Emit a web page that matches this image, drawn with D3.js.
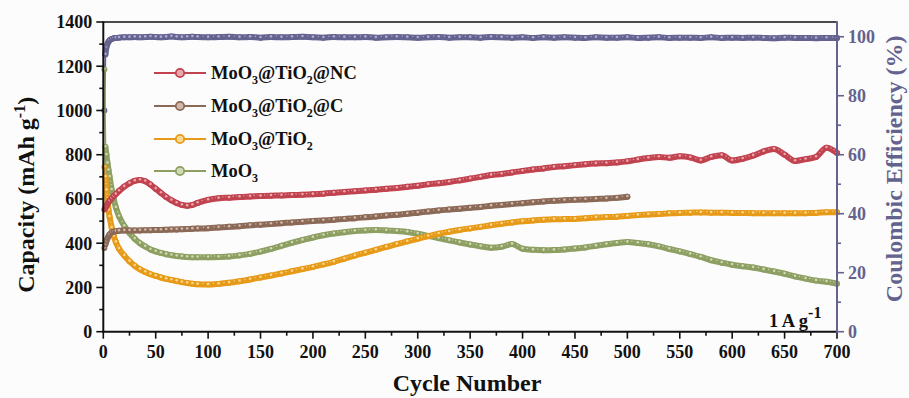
<!DOCTYPE html>
<html>
<head>
<meta charset="utf-8">
<script src="https://cdn.jsdelivr.net/npm/d3@7/dist/d3.min.js"></script>
<style>
  html, body { margin: 0; padding: 0; background: #fcfcfc; }
  svg { display: block; }
  text { font-family: "Liberation Serif", "Times New Roman", serif; font-weight: bold; }
</style>
</head>
<body>
<svg id="chart" width="909" height="398"></svg>
<script>
// Cycle numbers at which each series is sampled
const cycles = [1,2,3,4,5,6,8,10,12,15,20,25,30,35,40,45,50,55,60,65,70,75,80,85,90,
  100,110,120,130,140,150,160,170,180,190,200,210,220,230,240,250,260,270,280,290,300,
  310,320,330,340,350,360,370,380,390,400,410,420,430,440,450,460,470,480,490,500,
  510,520,530,540,550,560,570,580,590,600,610,620,630,640,650,660,670,680,690,700];

// Specific capacity (mAh g-1)
const capTiO2NC = [552,560,568,577,585,592,603,613,622,636,656,671,682,686,680,665,646,627,609,594,582,573,569,573,582,
  596,603,606,609,611,613,615,616,618,619,621,624,628,632,635,638,642,646,650,655,660,
  666,671,677,684,692,700,708,713,720,727,733,738,744,748,753,757,760,762,765,770,
  778,785,790,786,793,788,774,790,798,774,782,796,815,826,800,772,780,790,832,808];

const capTiO2C = [378,395,410,422,432,440,448,452,454,456,457,457,458,458,459,459,460,460,461,462,462,463,464,465,466,
  468,471,474,477,481,484,487,490,494,497,500,503,506,510,513,517,521,525,529,533,538,
  543,548,552,556,560,564,569,573,577,581,585,589,592,594,596,598,600,602,605,610];

const capTiO2 = [745,700,640,590,550,520,470,432,405,375,344,318,298,282,270,260,252,245,239,234,229,224,220,217,214,
  213,216,221,228,236,245,254,263,273,283,293,304,316,330,344,357,370,383,396,408,420,
  432,443,452,460,467,474,481,488,494,499,503,506,508,509,510,513,516,518,520,523,
  527,530,532,535,537,538,539,538,538,537,537,536,536,535,535,535,536,537,540,540];

const capMoO3 = [1185,835,800,762,730,700,642,598,562,522,478,446,420,400,385,372,363,356,350,346,342,340,338,337,337,
  337,338,340,345,352,362,374,388,402,414,426,436,444,450,455,458,460,458,455,451,443,
  433,423,413,403,394,386,380,384,396,375,370,368,369,372,376,381,388,395,401,405,
  401,395,386,374,363,351,338,323,312,303,296,290,281,272,262,250,240,231,226,217];

// Coulombic efficiency (%)
const effCE = [75,94,96.5,97.6,98.3,98.8,99.2,99.5,99.6,99.7,99.8,99.8,99.9,99.8,99.9,100.0,99.9,99.8,99.9,100.1,99.9,99.8,99.9,100.0,99.9,
  99.8,99.9,100.0,99.8,99.9,99.7,99.9,99.8,99.9,100.0,99.8,99.7,99.9,99.8,99.8,99.9,99.7,99.8,99.9,99.8,99.7,
  99.8,99.9,99.7,99.8,99.8,99.7,99.9,99.8,99.7,99.8,99.6,99.8,99.7,99.8,99.7,99.6,99.8,99.7,99.7,99.8,
  99.6,99.7,99.8,99.6,99.7,99.7,99.6,99.8,99.6,99.7,99.6,99.7,99.6,99.5,99.7,99.6,99.6,99.5,99.6,99.6];

const xTicks = [0,50,100,150,200,250,300,350,400,450,500,550,600,650,700];
const yTicks = [0,200,400,600,800,1000,1200,1400];
const ceTicks = [0,20,40,60,80,100];

const seriesNames = ["MoO\u2083@TiO\u2082@NC", "MoO\u2083@TiO\u2082@C", "MoO\u2083@TiO\u2082", "MoO\u2083"];

const svg = d3.select("#chart");
const m = { left: 103.3, right: 837, top: 22, bottom: 331.7 };

const x = d3.scaleLinear().domain([0, 700]).range([m.left, m.right]);
const y = d3.scaleLinear().domain([0, 1400]).range([m.bottom, m.top]);
const yR = d3.scaleLinear().domain([0, 105]).range([m.bottom, m.top]);

const ceColor = "#64628f";
const series = [
  { name: seriesNames[0], vals: capTiO2NC, color: "#c0434f", light: "#eaa7ae" },
  { name: seriesNames[1], vals: capTiO2C,  color: "#8b6957", light: "#d2b8aa" },
  { name: seriesNames[2], vals: capTiO2,   color: "#e79a17", light: "#fad790" },
  { name: seriesNames[3], vals: capMoO3,   color: "#8d9f62", light: "#cfd9b2" }
];

// plotted data: dense markers form a thick band with light speckles
const plot = svg.append("g");

function drawSeries(vals, sx, sy, color, light) {
  const pts = vals.map((v, i) => [cycles[i], v]);
  const line = d3.line().x(d => sx(d[0])).y(d => sy(d[1])).curve(d3.curveMonotoneX);
  plot.append("path").attr("d", line(pts.slice(0, 2)))
    .attr("fill", "none").attr("stroke", color).attr("stroke-width", 1.8);
  plot.append("path").attr("d", line(pts.slice(1)))
    .attr("fill", "none").attr("stroke", color).attr("stroke-width", 6)
    .attr("stroke-linejoin", "round").attr("stroke-linecap", "round");
  plot.append("path").attr("d", line(pts.slice(1)))
    .attr("fill", "none").attr("stroke", light).attr("stroke-width", 1.1)
    .attr("stroke-dasharray", "1.2 2.3").attr("transform", "translate(0,-1)");
  const mk = plot.selectAll(null).data(pts).enter().append("g")
    .attr("transform", d => `translate(${sx(d[0])},${sy(d[1])})`);
  mk.append("circle").attr("r", 3).attr("fill", color);
  mk.append("circle").attr("r", 1.3).attr("cy", -0.7).attr("fill", light);
}

drawSeries(effCE, x, yR, ceColor, "#adabd2");
series.slice().reverse().forEach(s => drawSeries(s.vals, x, y, s.color, s.light));

// frame
svg.append("line").attr("x1", m.left).attr("x2", m.right).attr("y1", m.top).attr("y2", m.top)
  .attr("stroke", "#111").attr("stroke-width", 1.6);

// left axis
const gL = svg.append("g").attr("transform", `translate(${m.left},0)`);
d3.range(0, 1401, 100).forEach(v => {
  gL.append("line").attr("x1", v % 200 === 0 ? -7 : -4).attr("x2", 0)
    .attr("y1", y(v)).attr("y2", y(v)).attr("stroke", "#111").attr("stroke-width", 1.6);
});
gL.selectAll(".lbl").data(yTicks).enter().append("text").attr("class", "lbl")
  .attr("x", -11).attr("y", d => y(d)).attr("dy", "0.35em").attr("text-anchor", "end")
  .attr("font-size", 18).attr("fill", "#111").text(d => d);
gL.append("line").attr("x1", 0).attr("x2", 0).attr("y1", m.top - 0.8).attr("y2", m.bottom + 1)
  .attr("stroke", "#111").attr("stroke-width", 2);

// bottom axis
const gB = svg.append("g").attr("transform", `translate(0,${m.bottom})`);
d3.range(0, 701, 25).forEach(v => {
  gB.append("line").attr("x1", x(v)).attr("x2", x(v)).attr("y1", 0).attr("y2", v % 50 === 0 ? 7 : 4)
    .attr("stroke", "#111").attr("stroke-width", 1.6);
});
gB.selectAll(".lbl").data(xTicks).enter().append("text").attr("class", "lbl")
  .attr("x", d => x(d)).attr("y", 26.5).attr("text-anchor", "middle")
  .attr("font-size", 18).attr("fill", "#111").text(d => d);
gB.append("line").attr("x1", m.left - 1).attr("x2", m.right).attr("y1", 0).attr("y2", 0)
  .attr("stroke", "#111").attr("stroke-width", 2);

// right axis (coulombic efficiency)
const gR = svg.append("g").attr("transform", `translate(${m.right},0)`);
d3.range(0, 101, 10).forEach(v => {
  gR.append("line").attr("x1", 0).attr("x2", v % 20 === 0 ? 7 : 4)
    .attr("y1", yR(v)).attr("y2", yR(v)).attr("stroke", ceColor).attr("stroke-width", 1.6);
});
gR.selectAll(".lbl").data(ceTicks).enter().append("text").attr("class", "lbl")
  .attr("x", 11).attr("y", d => yR(d)).attr("dy", "0.35em").attr("text-anchor", "start")
  .attr("font-size", 18).attr("fill", ceColor).text(d => d);
gR.append("line").attr("x1", 0).attr("x2", 0).attr("y1", m.top - 0.8).attr("y2", m.bottom + 1)
  .attr("stroke", ceColor).attr("stroke-width", 2);

// axis titles
const tL = svg.append("text").attr("transform", `translate(34,${(m.top + m.bottom) / 2 + 18}) rotate(-90)`)
  .attr("text-anchor", "middle").attr("font-size", 24).attr("fill", "#111");
tL.append("tspan").text("Capacity (mAh g");
tL.append("tspan").attr("font-size", 16).attr("dy", -9).text("-1");
tL.append("tspan").attr("dy", 9).text(")");

svg.append("text").attr("x", 467).attr("y", 391).attr("text-anchor", "middle")
  .attr("font-size", 24).attr("fill", "#111").text("Cycle Number");

svg.append("text").attr("transform", `translate(902,${(m.top + m.bottom) / 2 - 8}) rotate(-90)`)
  .attr("text-anchor", "middle").attr("font-size", 24).attr("fill", ceColor)
  .text("Coulombic Efficiency (%)");

// current density note
const note = svg.append("text").attr("x", 769).attr("y", 327).attr("font-size", 18.5).attr("fill", "#111");
note.append("tspan").text("1 A g");
note.append("tspan").attr("font-size", 16).attr("dy", -9).text("-1");

// legend
const legendRows = [73, 106, 139, 171];
const legendParts = [
  [["MoO", 0], ["3", 1], ["@TiO", 0], ["2", 1], ["@NC", 0]],
  [["MoO", 0], ["3", 1], ["@TiO", 0], ["2", 1], ["@C", 0]],
  [["MoO", 0], ["3", 1], ["@TiO", 0], ["2", 1]],
  [["MoO", 0], ["3", 1]]
];
series.forEach((s, i) => {
  const g = svg.append("g").attr("transform", `translate(0,${legendRows[i]})`);
  g.append("line").attr("x1", 154).attr("x2", 206).attr("y1", 0).attr("y2", 0)
    .attr("stroke", s.color).attr("stroke-width", 2);
  g.append("circle").attr("cx", 180).attr("cy", 0).attr("r", 4.2)
    .attr("fill", s.light).attr("stroke", s.color).attr("stroke-width", 1.8);
  const t = g.append("text").attr("x", 211).attr("y", 6).attr("font-size", 18.5).attr("fill", "#111");
  let prevSub = false;
  legendParts[i].forEach(([txt, sub]) => {
    const sp = t.append("tspan").text(txt);
    if (sub) sp.attr("font-size", 12).attr("dy", 5);
    else if (prevSub) sp.attr("dy", -5);
    prevSub = !!sub;
  });
});
</script>
</body>
</html>
